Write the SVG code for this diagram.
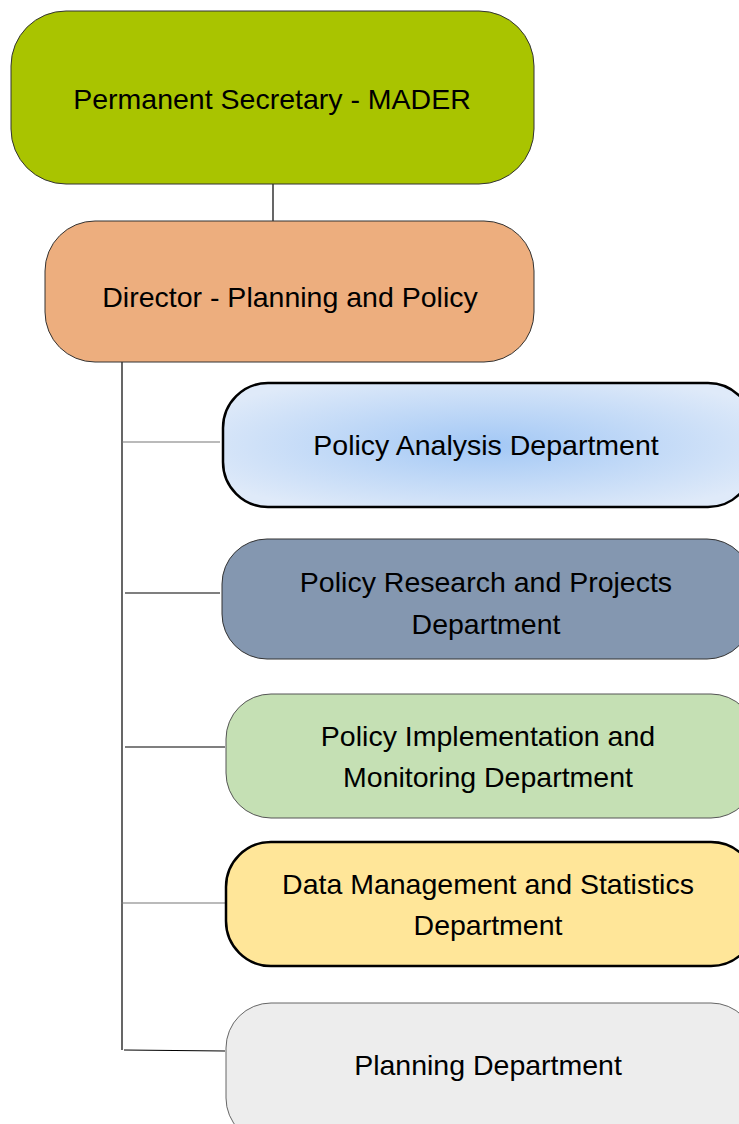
<svg xmlns="http://www.w3.org/2000/svg" width="739" height="1124" viewBox="0 0 739 1124">
<style>
text{font-family:"Liberation Sans",Arial,sans-serif;font-size:28.5px;fill:#000;text-anchor:middle}
.conn line{stroke:#000;stroke-width:1.2}
.conn line.g{stroke:#777}
</style>
<defs>
<radialGradient id="blueGrad" cx="0.5" cy="0.5" r="0.6">
<stop offset="0" stop-color="#a3c8f5"/>
<stop offset="1" stop-color="#dfeaf9"/>
</radialGradient>
</defs>
<g class="conn" id="connectors">
<line x1="273" y1="184" x2="273" y2="221"/>
<line x1="122" y1="362" x2="122" y2="1050"/>
<line class="g" x1="122" y1="442" x2="220" y2="442"/>
<line x1="125" y1="593" x2="220" y2="593"/>
<line x1="125" y1="747" x2="225" y2="747"/>
<line class="g" x1="121" y1="903" x2="225" y2="903"/>
<line x1="124" y1="1050" x2="225" y2="1051"/>
</g>
<g id="n-permanent">
<rect x="11" y="11" width="523" height="173" rx="55" ry="55" fill="#a9c400" stroke="#333" stroke-width="1"/>
<text x="272" y="109">Permanent Secretary - MADER</text>
</g>
<g id="n-director">
<rect x="45" y="221" width="489" height="141" rx="50" ry="50" fill="#edae7e" stroke="#333" stroke-width="1"/>
<text x="290" y="307">Director - Planning and Policy</text>
</g>
<g id="n-analysis">
<rect x="223" y="383" width="530" height="124" rx="45" ry="45" fill="url(#blueGrad)" stroke="#000" stroke-width="2.5"/>
<text x="486" y="455">Policy Analysis Department</text>
</g>
<g id="n-research">
<rect x="222" y="539" width="530" height="120" rx="45" ry="45" fill="#8497b0" stroke="#333" stroke-width="1"/>
<text x="486" y="592">Policy Research and Projects</text>
<text x="486" y="634">Department</text>
</g>
<g id="n-implementation">
<rect x="226" y="694" width="530" height="124" rx="45" ry="45" fill="#c5e0b4" stroke="#555" stroke-width="1"/>
<text x="488" y="746">Policy Implementation and</text>
<text x="488" y="787">Monitoring Department</text>
</g>
<g id="n-data">
<rect x="226" y="842" width="530" height="124" rx="45" ry="45" fill="#ffe699" stroke="#000" stroke-width="2.5"/>
<text x="488" y="894">Data Management and Statistics</text>
<text x="488" y="935">Department</text>
</g>
<g id="n-planning">
<rect x="226" y="1003" width="530" height="140" rx="45" ry="45" fill="#ededed" stroke="#666" stroke-width="1"/>
<text x="488" y="1075">Planning Department</text>
</g>
</svg>
